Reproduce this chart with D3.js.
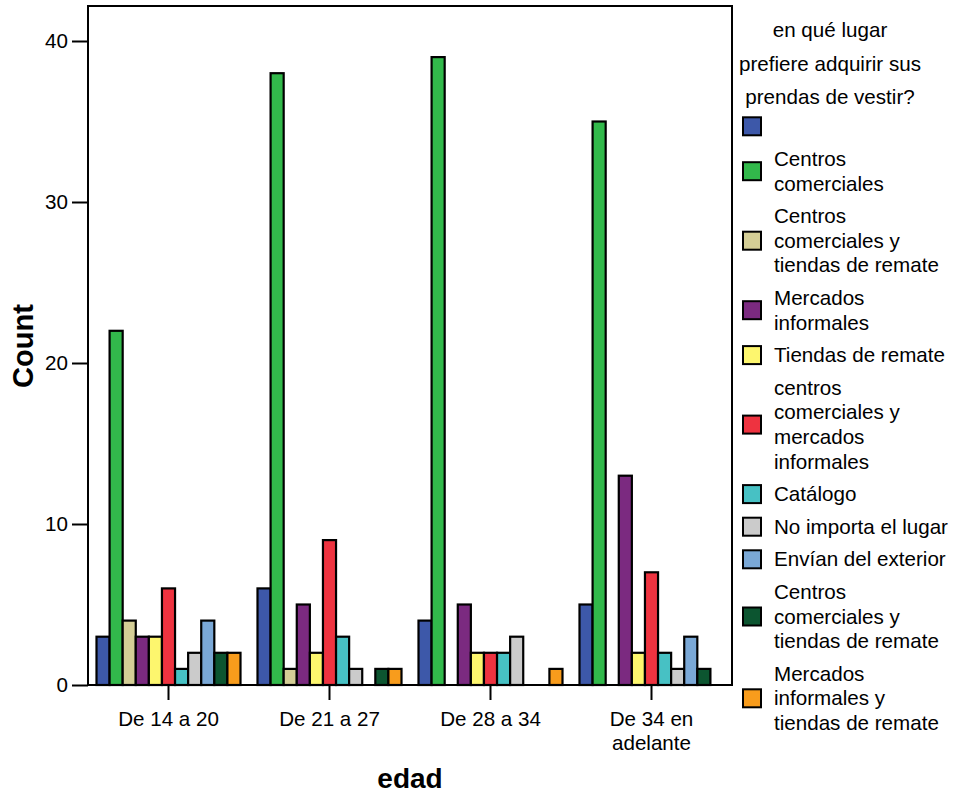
<!DOCTYPE html>
<html>
<head>
<meta charset="utf-8">
<script src="https://cdn.jsdelivr.net/npm/d3@7"></script>
<style>
  html, body { margin: 0; padding: 0; background: #fff; }
  svg { display: block; font-family: "Liberation Sans", Arial, sans-serif; }
</style>
</head>
<body>
<svg id="chart" width="958" height="794"></svg>
<script>
// Age groups along the x axis
const ageGroups = ["De 14 a 20", "De 21 a 27", "De 28 a 34", "De 34 en adelante"];

// Answer categories (legend order); the first one has an empty label
const places = [
  "",
  "Centros comerciales",
  "Centros comerciales y tiendas de remate",
  "Mercados informales",
  "Tiendas de remate",
  "centros comerciales y mercados informales",
  "Catálogo",
  "No importa el lugar",
  "Envían del exterior",
  "Centros comerciales y tiendas de remate ",
  "Mercados informales y tiendas de remate"
];

// Legend label lines for each category
const legendLines = [
  [""],
  ["Centros", "comerciales"],
  ["Centros", "comerciales y", "tiendas de remate"],
  ["Mercados", "informales"],
  ["Tiendas de remate"],
  ["centros", "comerciales y", "mercados", "informales"],
  ["Catálogo"],
  ["No importa el lugar"],
  ["Envían del exterior"],
  ["Centros", "comerciales y", "tiendas de remate"],
  ["Mercados", "informales y", "tiendas de remate"]
];

const placeColors = [
  "#3d58a9", "#32b94b", "#d4ce96", "#7b2a80", "#fdf66e", "#ee3340",
  "#47c1c4", "#cbcbcb", "#7aa8d6", "#0c5530", "#f89c1c"
];

// Counts per age group, one entry per category in legend order
const counts14to20 = [3, 22, 4, 3, 3, 6, 1, 2, 4, 2, 2];
const counts21to27 = [6, 38, 1, 5, 2, 9, 3, 1, 0, 1, 1];
const counts28to34 = [4, 39, 0, 5, 2, 2, 2, 3, 0, 0, 1];
const counts34plus = [5, 35, 0, 13, 2, 7, 2, 1, 3, 1, 0];

const yTicks = [0, 10, 20, 30, 40];

const seriesByGroup = [counts14to20, counts21to27, counts28to34, counts34plus];

const fontSize = 20.6;

const svg = d3.select("#chart");
const plot = { left: 88, right: 732, top: 6, bottom: 685 };

const x0 = d3.scaleBand().domain(ageGroups).range([plot.left, plot.right]).padding(0);
const x1 = d3.scaleBand().domain(d3.range(places.length))
  .range([8.5, x0.bandwidth() - 8.5]).padding(0);
const y = d3.scaleLinear().domain([0, 40]).range([plot.bottom, 41]);

// Bars
const groups = svg.append("g").selectAll("g")
  .data(ageGroups)
  .join("g")
  .attr("transform", d => `translate(${x0(d)},0)`);

groups.selectAll("rect")
  .data((g, gi) => seriesByGroup[gi].map((v, i) => ({ i, v })).filter(d => d.v > 0))
  .join("rect")
  .attr("x", d => x1(d.i))
  .attr("width", x1.bandwidth())
  .attr("y", d => y(d.v))
  .attr("height", d => y(0) - y(d.v))
  .attr("fill", d => placeColors[d.i])
  .attr("stroke", "#000")
  .attr("stroke-width", 2.2);

// Plot frame
svg.append("rect")
  .attr("x", plot.left).attr("y", plot.top)
  .attr("width", plot.right - plot.left).attr("height", plot.bottom - plot.top)
  .attr("fill", "none").attr("stroke", "#000").attr("stroke-width", 2);

// Y axis
const yAxis = svg.append("g")
  .attr("transform", `translate(${plot.left},0)`)
  .call(d3.axisLeft(y).tickValues(yTicks).tickSize(16).tickPadding(4));
yAxis.select(".domain").remove();
yAxis.selectAll(".tick line").attr("stroke", "#000").attr("stroke-width", 2);
yAxis.selectAll(".tick text").attr("font-size", fontSize).attr("fill", "#000")
  .attr("font-family", "Liberation Sans, Arial, sans-serif");

// X axis
const xAxis = svg.append("g")
  .attr("transform", `translate(0,${plot.bottom})`)
  .call(d3.axisBottom(x0).tickSize(15).tickFormat(""));
xAxis.select(".domain").remove();
xAxis.selectAll(".tick line").attr("stroke", "#000").attr("stroke-width", 2);

// X tick labels, wrapped to the band
const xLabelLines = { "De 34 en adelante": ["De 34 en", "adelante"] };
xAxis.selectAll(".tick").each(function(d) {
  const lines = xLabelLines[d] || [d];
  const t = d3.select(this).append("text")
    .attr("text-anchor", "middle").attr("font-size", fontSize).attr("fill", "#000")
    .attr("font-family", "Liberation Sans, Arial, sans-serif");
  lines.forEach((ln, k) => t.append("tspan").attr("x", 0).attr("y", 41 + k * 24).text(ln));
});

// Axis titles
svg.append("text")
  .attr("transform", "translate(33,346) rotate(-90)")
  .attr("text-anchor", "middle").attr("font-size", 29).attr("font-weight", "bold")
  .text("Count");
svg.append("text")
  .attr("x", 410).attr("y", 788)
  .attr("text-anchor", "middle").attr("font-size", 28).attr("font-weight", "bold")
  .text("edad");

// Legend
const legend = svg.append("g");
const titleLines = ["en qué lugar", "prefiere adquirir sus", "prendas de vestir?"];
legend.selectAll("text.title")
  .data(titleLines)
  .join("text")
  .attr("class", "title")
  .attr("x", 830).attr("y", (d, i) => 37 + i * 33.5)
  .attr("text-anchor", "middle").attr("font-size", fontSize)
  .text(d => d);

const lineH = 24.6;
let legendY = 110;
places.forEach((p, i) => {
  const lines = legendLines[i];
  const h = lines.length * lineH + 8;
  const cy = legendY + h / 2;
  legend.append("rect")
    .attr("x", 743).attr("y", cy - 9).attr("width", 18).attr("height", 18)
    .attr("fill", placeColors[i]).attr("stroke", "#000").attr("stroke-width", 2);
  const t = legend.append("text").attr("font-size", fontSize);
  lines.forEach((ln, k) => {
    t.append("tspan")
      .attr("x", 774)
      .attr("y", cy + (k - (lines.length - 1) / 2) * lineH + 7)
      .text(ln);
  });
  legendY += h;
});
</script>
</body>
</html>
